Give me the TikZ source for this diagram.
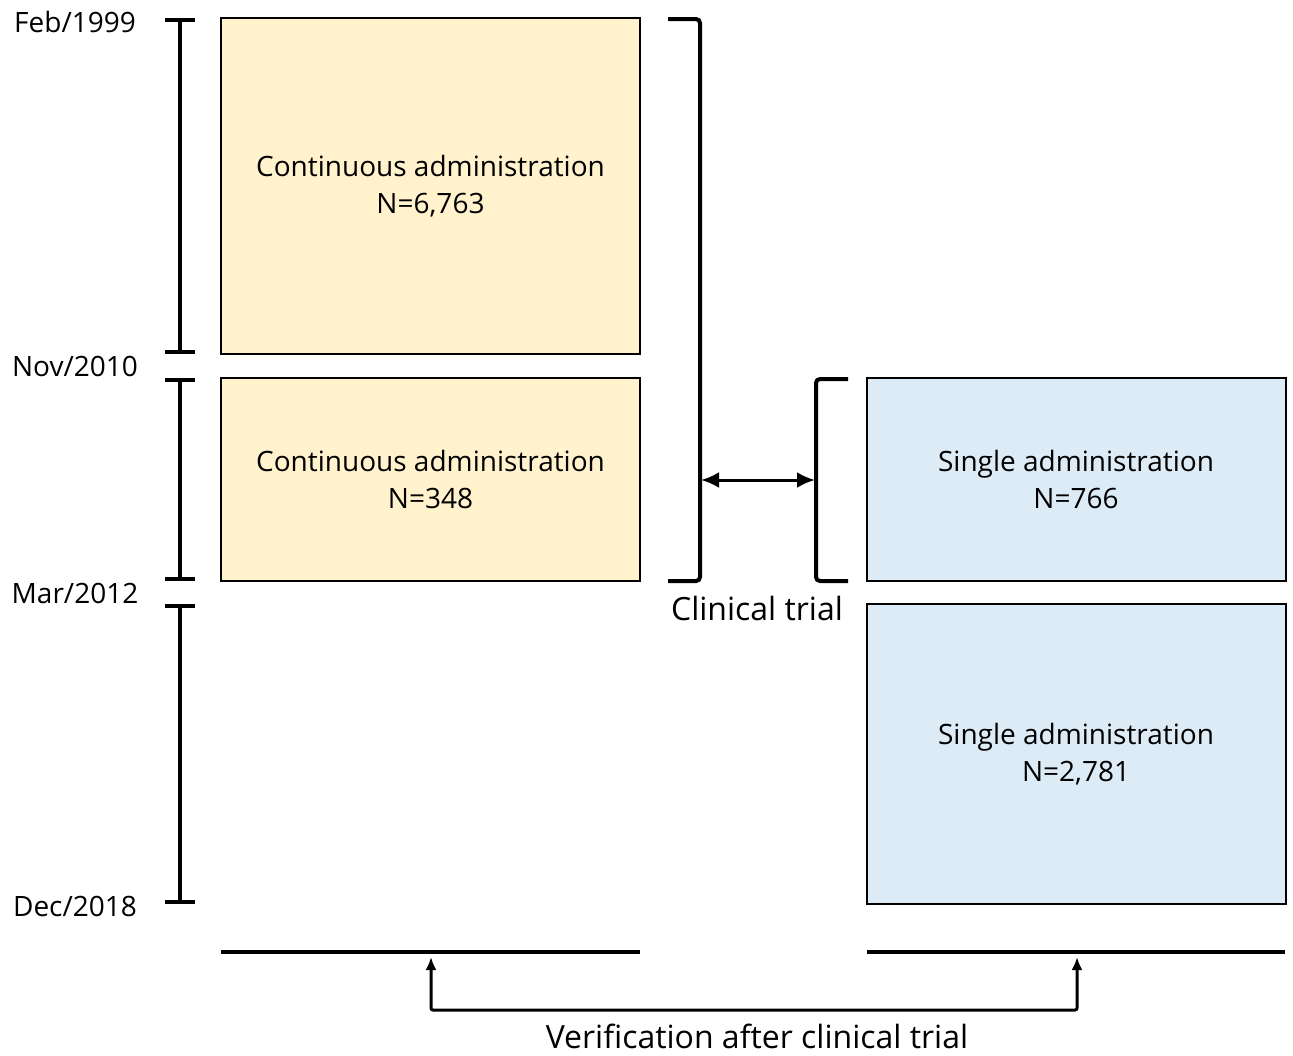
\documentclass[tikz,border=0pt]{standalone}
\usepackage{fontspec}
\setmainfont{Open Sans}
\usetikzlibrary{arrows.meta,positioning}

\definecolor{boxyellow}{HTML}{FFF2CC}
\definecolor{boxblue}{HTML}{DDEBF7}

\begin{document}
\begin{tikzpicture}[x=0.5pt,y=-0.5pt,
  box/.style={draw,line width=1pt,minimum width=209.5pt,align=center,
    font=\fontsize{14}{18.5}\selectfont},
  datelabel/.style={font=\fontsize{14}{17}\selectfont},
  timebar/.style={line width=2pt,{Bar[width=15pt]}-{Bar[width=15pt]}},
  bracket/.style={line width=2pt,rounded corners=2pt},
  biglabel/.style={font=\fontsize{16}{19}\selectfont}]
  \useasboundingbox (0,0) rectangle (1293,1055);

  % Boxes
  \node[box,fill=boxyellow,minimum height=168pt] (cont1) at (430.5,186) {Continuous administration\\N=6,763};
  \node[box,fill=boxyellow,minimum height=101.5pt] (cont2) at (430.5,479.5) {Continuous administration\\N=348};
  \node[box,fill=boxblue,minimum height=101.5pt] (single1) at (1076,479.5) {Single administration\\N=766};
  \node[box,fill=boxblue,minimum height=150pt] (single2) at (1076,754) {Single administration\\N=2,781};

  % Time line
  \node[datelabel] (feb) at (75,22) {Feb/1999};
  \node[datelabel] (nov) at (75,366) {Nov/2010};
  \node[datelabel] (mar) at (75,593) {Mar/2012};
  \node[datelabel] (dec) at (75,906) {Dec/2018};
  \draw[timebar] (180,18) -- (180,354);
  \draw[timebar] (180,378) -- (180,581);
  \draw[timebar] (180,604) -- (180,904);

  % Brackets
  \draw[bracket] (668,19) -- (700,19) -- (700,581) -- (668,581);
  \draw[bracket] (848,379) -- (816,379) -- (816,581) -- (848,581);
  \coordinate (trialL) at (701,480);
  \coordinate (trialR) at (815,480);
  \draw[line width=1.5pt,{Latex[length=9pt,width=8pt]}-{Latex[length=9pt,width=8pt]}] (trialL) -- (trialR);
  \node[biglabel] (trial) at (757,608) {Clinical trial};

  % Verification
  \draw[line width=2pt] (221,952) -- (640,952);
  \draw[line width=2pt] (867,952) -- (1285,952);
  \coordinate (verL) at (431,957);
  \coordinate (verR) at (1077,957);
  \draw[line width=1.5pt,{Latex[length=6.5pt,width=5.5pt]}-{Latex[length=6.5pt,width=5.5pt]},rounded corners=1pt]
    (verL) -- (431,1010) -- (1077,1010) -- (verR);
  \node[biglabel] (verif) at (757,1036) {Verification after clinical trial};
\end{tikzpicture}
\end{document}
